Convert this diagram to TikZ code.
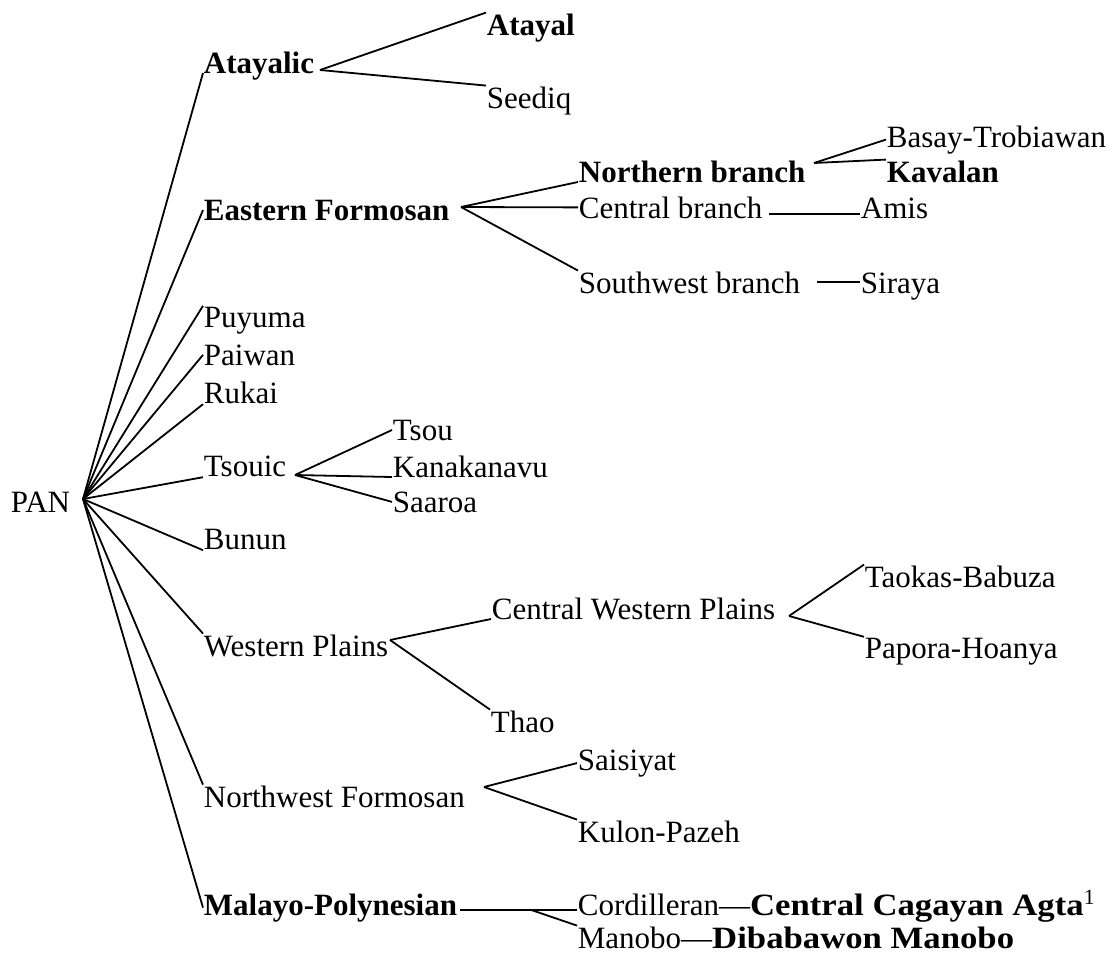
\documentclass[tikz,border=0pt]{standalone}
\usepackage{fontspec}
\setmainfont{Liberation Serif}
\usepackage{graphicx}
\usepackage{tikz}
\usetikzlibrary{positioning}
\newcommand{\widebf}[1]{\scalebox{1.12}[1]{\bfseries #1}}

\begin{document}
\begin{tikzpicture}[
            x = 0.5pt, y = -0.5pt,
   line width = 0.9pt,
   lang/.style = {inner sep=0pt, anchor=base west,
                  font=\fontsize{15.5}{18}\selectfont},
    grp/.style = {lang, font=\fontsize{15.5}{18}\selectfont\bfseries}
                    ]
\useasboundingbox (0,0) rectangle (1113,958);
\node (pan) [lang] at (10,512) {PAN};
\coordinate (panhub) at (83,499);
\node (atayalic)  [grp]  at (203,73)  {Atayalic};
\node (eastern)   [grp]  at (203,220) {Eastern Formosan};
\node (puyuma)    [lang] at (203,327) {Puyuma};
\node (paiwan)    [lang] at (203,365) {Paiwan};
\node (rukai)     [lang] at (203,403) {Rukai};
\node (tsouic)    [lang] at (203,476) {Tsouic};
\node (bunun)     [lang] at (203,549) {Bunun};
\node (western)   [lang] at (203,656) {Western Plains};
\node (northwest) [lang] at (203,807) {Northwest Formosan};
\node (malayo)    [grp]  at (203,915) {Malayo-Polynesian};
\node (atayal)    [grp]  at (486,35)  {Atayal};
\node (seediq)    [lang] at (486,108) {Seediq};
\node (northern)  [grp]  at (578,182) {Northern branch};
\node (central)   [lang] at (578,218) {Central branch};
\node (southwest) [lang] at (578,293) {Southwest branch};
\node (basay)     [lang] at (886,147) {Basay-Trobiawan};
\node (kavalan)   [grp]  at (886,182) {Kavalan};
\node (amis)      [lang] at (860,218) {Amis};
\node (siraya)    [lang] at (860,293) {Siraya};
\node (tsou)       [lang] at (392,440) {Tsou};
\node (kanakanavu) [lang] at (392,477) {Kanakanavu};
\node (saaroa)     [lang] at (392,512) {Saaroa};
\node (cwp)       [lang] at (491,619) {Central Western Plains};
\node (thao)      [lang] at (490,732) {Thao};
\node (taokas)    [lang] at (864,587) {Taokas-Babuza};
\node (papora)    [lang] at (864,658) {Papora-Hoanya};
\node (saisiyat)  [lang] at (577,770) {Saisiyat};
\node (kulon)     [lang] at (577,842) {Kulon-Pazeh};
\node (cord)      [lang] at (577,915) {Cordilleran\textemdash\widebf{Central Cagayan Agta}\textsuperscript{1}};
\node (manobo)    [lang] at (577,948) {Manobo\textemdash\widebf{Dibabawon Manobo}};
\coordinate (atayalichub)  at (320,70);
\coordinate (easternhub)   at (461,207);
\coordinate (northernhub)  at (814,163);
\coordinate (tsouichub)    at (295,475);
\coordinate (westernhub)   at (390,640);
\coordinate (cwphub)       at (789,616);
\coordinate (northwesthub) at (484,787);
\foreach \n/\a in {atayalic/base west, eastern/west, puyuma/north west,
                   paiwan/west, rukai/south west, tsouic/south west,
                   bunun/south west, western/north west,
                   northwest/north west, malayo/west}
   \draw (panhub) -- (\n.\a);
\draw (atayalichub) -- (atayal.north west);
\draw (atayalichub) -- (seediq.north west);
\draw (easternhub) -- (northern.base west);
\draw (easternhub) -- (central.west);
\draw (easternhub) -- (southwest.north west);
\draw (northernhub) -- (basay.west);
\draw (northernhub) -- (kavalan.north west);
\draw ([xshift=3pt,yshift=2pt]central.base east) -- ([yshift=2pt]amis.base west);
\draw ([xshift=8pt,yshift=5.5pt]southwest.base east) -- ([yshift=5.5pt]siraya.base west);
\draw (tsouichub) -- (tsou.west);
\draw (tsouichub) -- (kanakanavu.base west);
\draw (tsouichub) -- (saaroa.west);
\draw (westernhub) -- (cwp.base west);
\draw (westernhub) -- (thao.north west);
\draw (cwphub) -- (taokas.north west);
\draw (cwphub) -- (papora.north west);
\draw (northwesthub) -- (saisiyat.west);
\draw (northwesthub) -- (kulon.north west);
\draw ([xshift=1pt,yshift=2.5pt]malayo.base east) -- coordinate[pos=.61] (malayohub)
      ([yshift=2.5pt]cord.base west);
\draw (malayohub) -- (manobo.north west);
\end{tikzpicture}
\end{document}
